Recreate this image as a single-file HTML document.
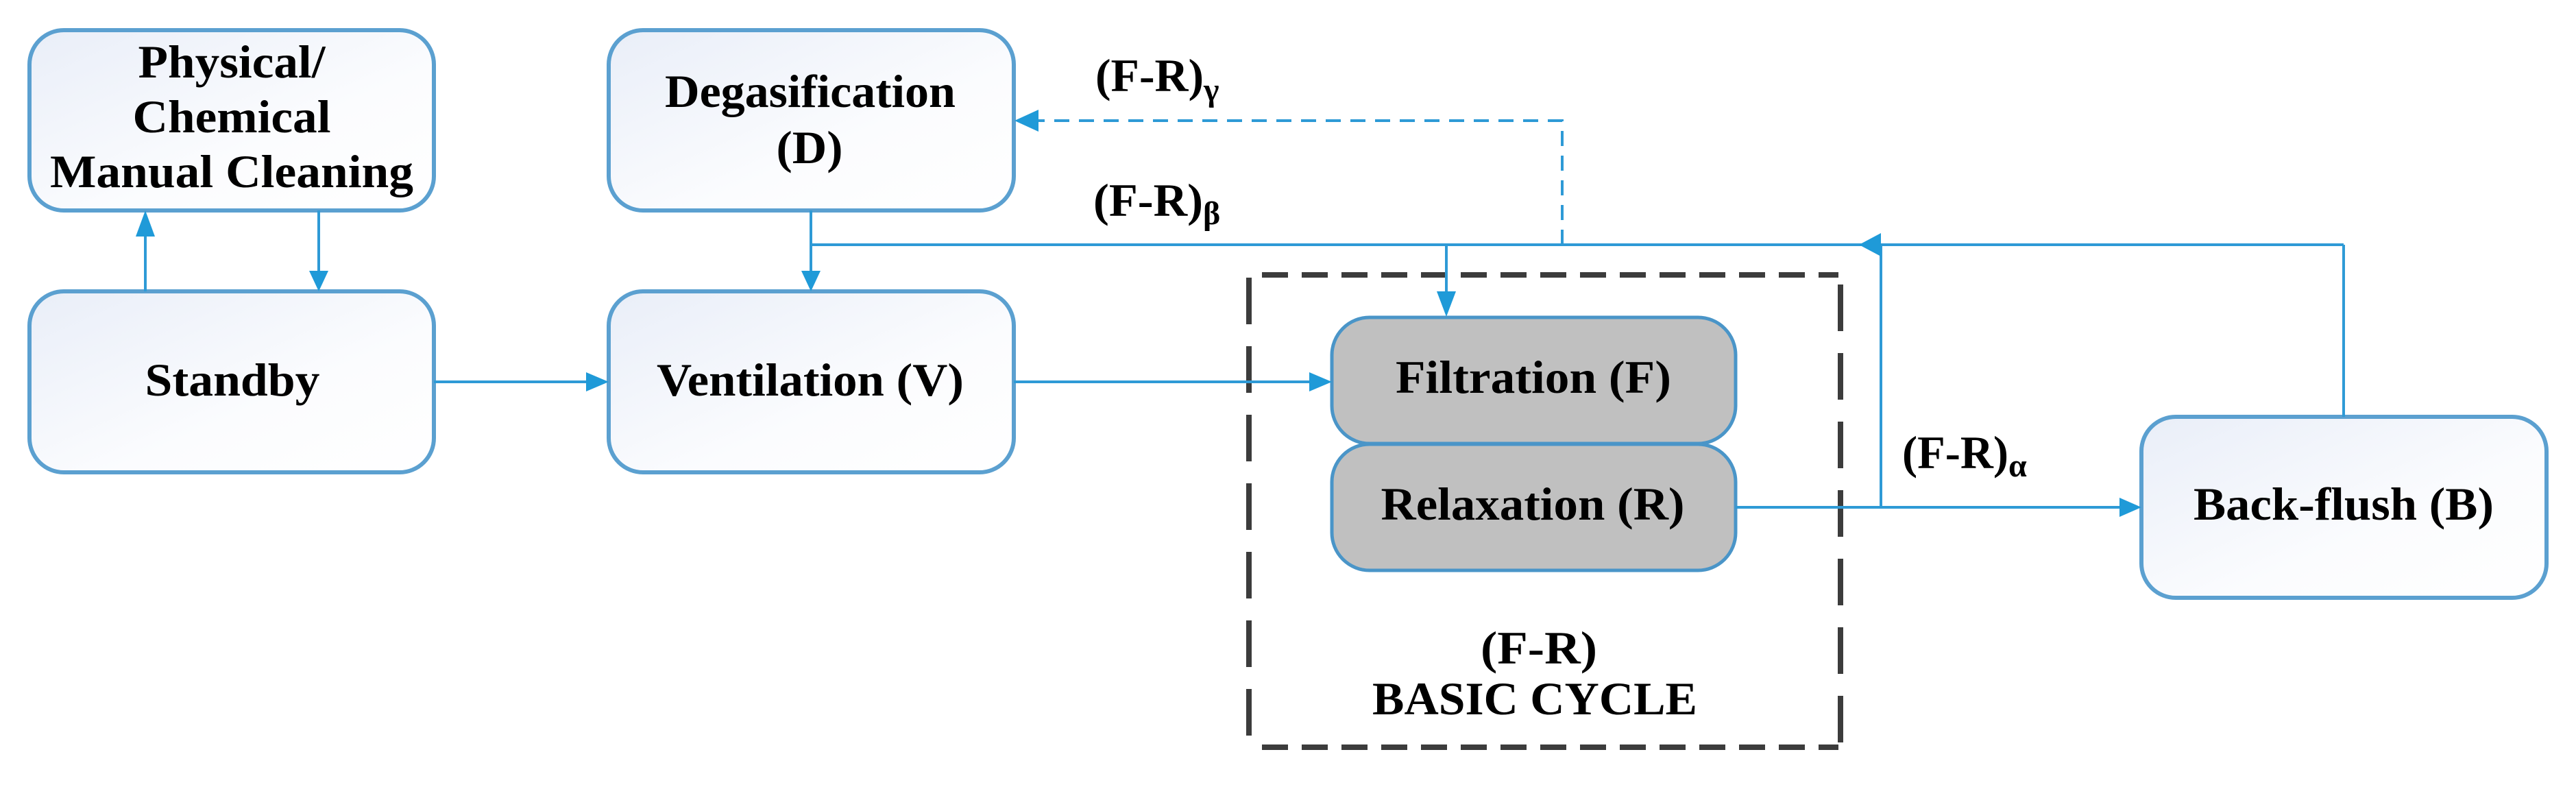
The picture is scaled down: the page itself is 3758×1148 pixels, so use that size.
<!DOCTYPE html>
<html><head><meta charset="utf-8"><style>
html,body{margin:0;padding:0;background:#fff;}
svg{display:block;}
text{font-family:"Liberation Serif",serif;font-weight:bold;fill:#000;}
</style></head><body>
<svg width="3758" height="1148" viewBox="0 0 3758 1148" xmlns="http://www.w3.org/2000/svg">
<defs>
<linearGradient id="g" x1="0" y1="0" x2="1" y2="1">
<stop offset="0" stop-color="#e9eef8"/><stop offset="0.6" stop-color="#fbfcfe"/><stop offset="1" stop-color="#ffffff"/>
</linearGradient>
</defs>
<g stroke="#5ba0d0" stroke-width="6" fill="url(#g)">
<rect x="43" y="44" width="590" height="263" rx="50"/>
<rect x="43" y="425" width="590" height="264" rx="50"/>
<rect x="888" y="44" width="591" height="263" rx="50"/>
<rect x="888" y="425" width="591" height="264" rx="50"/>
<rect x="3124" y="608" width="591" height="264" rx="50"/>
</g>
<g stroke="#4a95c8" stroke-width="5" fill="#c0c0c0">
<rect x="1943" y="463" width="589" height="184" rx="55"/>
<rect x="1943" y="648" width="589" height="184" rx="55"/>
</g>
<g stroke="#3c3c3c" stroke-width="8" fill="none" stroke-dasharray="38,20">
<line x1="1841" y1="401" x2="2682" y2="401"/>
<line x1="1841" y1="1090" x2="2682" y2="1090"/>
<line x1="1822" y1="405" x2="1822" y2="1092" stroke-dasharray="68,32"/>
<line x1="2685" y1="415" x2="2685" y2="1085" stroke-dasharray="68,32"/>
</g>
<g stroke="#2e9ad6" stroke-width="4" fill="none">
<line x1="212" y1="425" x2="212" y2="340"/>
<line x1="465" y1="307" x2="465" y2="395"/>
<line x1="633" y1="557" x2="855" y2="557"/>
<line x1="1183" y1="307" x2="1183" y2="395"/>
<line x1="1183" y1="357" x2="3419" y2="357"/>
<line x1="3419" y1="357" x2="3419" y2="608"/>
<line x1="2110" y1="357" x2="2110" y2="428"/>
<line x1="1479" y1="557" x2="1910" y2="557"/>
<line x1="2532" y1="740" x2="3092" y2="740"/>
<line x1="2744" y1="357" x2="2744" y2="740"/>
<path d="M2279 357 V176 H1515" stroke-dasharray="22,14"/>
</g>
<g fill="#1f9ad8">
<polygon points="212,307 198,345 226,345"/>
<polygon points="465,425 451,395 479,395"/>
<polygon points="888,557 855,543 855,571"/>
<polygon points="1183,425 1169,395 1197,395"/>
<polygon points="2110,462 2096,425 2124,425"/>
<polygon points="1943,557 1910,543 1910,571"/>
<polygon points="3124,740 3092,726 3092,754"/>
<polygon points="2712,357 2744,340 2744,374"/>
<polygon points="1480,176 1515,160 1515,192"/>
</g>
<g font-size="68" text-anchor="middle">
<text x="338" y="113" textLength="273" lengthAdjust="spacingAndGlyphs">Physical/</text>
<text x="338" y="193" textLength="289" lengthAdjust="spacingAndGlyphs">Chemical</text>
<text x="338" y="273" textLength="530" lengthAdjust="spacingAndGlyphs">Manual Cleaning</text>
<text x="339" y="577" textLength="255" lengthAdjust="spacingAndGlyphs">Standby</text>
<text x="1182" y="156" textLength="424" lengthAdjust="spacingAndGlyphs">Degasification</text>
<text x="1181" y="238" textLength="97" lengthAdjust="spacingAndGlyphs">(D)</text>
<text x="1182" y="577" textLength="448" lengthAdjust="spacingAndGlyphs">Ventilation (V)</text>
<text x="2237" y="573" textLength="402" lengthAdjust="spacingAndGlyphs">Filtration (F)</text>
<text x="2236" y="758" textLength="443" lengthAdjust="spacingAndGlyphs">Relaxation (R)</text>
<text x="3419" y="758" textLength="438" lengthAdjust="spacingAndGlyphs">Back-flush (B)</text>
<text x="2245" y="968" textLength="170" lengthAdjust="spacingAndGlyphs">(F-R)</text>
<text x="2239" y="1042" textLength="474" lengthAdjust="spacingAndGlyphs">BASIC CYCLE</text>
</g>
<g font-size="68">
<text x="1598" y="133"><tspan textLength="158" lengthAdjust="spacingAndGlyphs">(F-R)</tspan><tspan font-size="48" dy="14">γ</tspan></text>
<text x="1595" y="315"><tspan textLength="160" lengthAdjust="spacingAndGlyphs">(F-R)</tspan><tspan font-size="48" dy="12">β</tspan></text>
<text x="2775" y="683"><tspan textLength="155" lengthAdjust="spacingAndGlyphs">(F-R)</tspan><tspan font-size="48" dy="12">α</tspan></text>
</g>
</svg>
</body></html>
